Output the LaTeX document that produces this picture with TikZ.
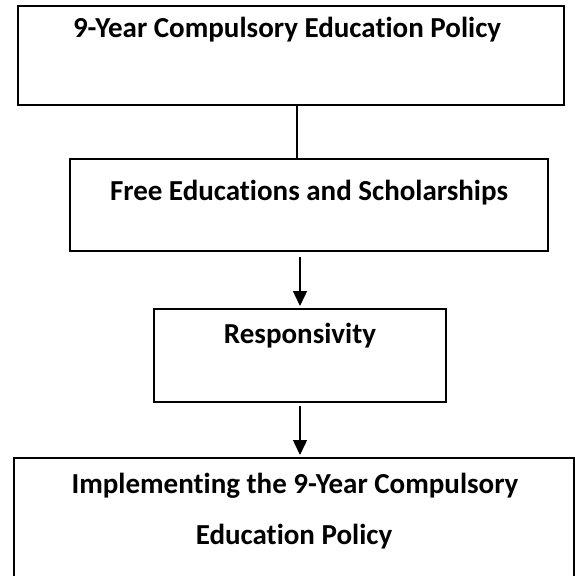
\documentclass[tikz,border=0pt]{standalone}
\usepackage{fontspec}
\setmainfont{Carlito}[Ligatures=NoCommon]
\usetikzlibrary{arrows.meta}
\begin{document}
\begin{tikzpicture}[x=1pt,y=-1pt,
  box/.style={draw=black,line width=1.4pt,inner sep=0pt,outer sep=0pt},
  lbl/.style={anchor=base,inner sep=0pt,font=\fontsize{29}{35}\selectfont\bfseries},
  conn/.style={draw=black,line width=1.4pt},
  arr/.style={conn,-{Triangle[width=14pt,length=15pt]}}]
\useasboundingbox (0,0) rectangle (574,576);
% boxes
\node[box,minimum width=546pt,minimum height=99pt] (b1) at (291,55.5) {};
\node[box,minimum width=478pt,minimum height=92pt] (b2) at (309,205) {};
\node[box,minimum width=292pt,minimum height=93pt] (b3) at (300,355.5) {};
\node[box,minimum width=560pt,minimum height=130pt] (b4) at (294,523) {};
% texts
\node[lbl] (t1) at (287,37) {9-Year Compulsory Education Policy};
\node[lbl] (t2) at (309,200) {Free Educations and Scholarships};
\node[lbl] (t3) at (300,343) {Responsivity};
\node[lbl] (t4a) at (295,493) {Implementing the 9-Year Compulsory};
\node[lbl] (t4b) at (294,544) {Education Policy};
% connector positions
\coordinate (c1) at (297,0);
\coordinate (c2) at (300,0);
\draw[conn] (b1.south -| c1) -- (b2.north -| c1);
\draw[arr,shorten <=6pt,shorten >=3pt] (b2.south -| c2) -- (b3.north -| c2);
\draw[arr,shorten <=4pt,shorten >=3pt] (b3.south -| c2) -- (b4.north -| c2);
\end{tikzpicture}
\end{document}
